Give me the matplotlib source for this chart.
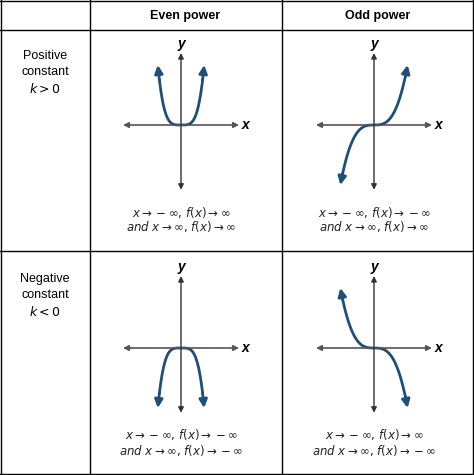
import numpy as np
import matplotlib
matplotlib.use("Agg")
import matplotlib.pyplot as plt

col_headers = ["Even power", "Odd power"]
row_headers = ["Positive\nconstant\n$k>0$", "Negative\nconstant\n$k<0$"]
signs = [1, -1]
powers = [4, 3]
xscale = [1.0, 1.45]
captions = [
    [("$x\\rightarrow-\\infty$, $f(x)\\rightarrow\\infty$", "and $x\\rightarrow\\infty$, $f(x)\\rightarrow\\infty$"),
     ("$x\\rightarrow-\\infty$, $f(x)\\rightarrow-\\infty$", "and $x\\rightarrow\\infty$, $f(x)\\rightarrow\\infty$")],
    [("$x\\rightarrow-\\infty$, $f(x)\\rightarrow-\\infty$", "and $x\\rightarrow\\infty$, $f(x)\\rightarrow-\\infty$"),
     ("$x\\rightarrow-\\infty$, $f(x)\\rightarrow\\infty$", "and $x\\rightarrow\\infty$, $f(x)\\rightarrow-\\infty$")],
]

plt.rcParams['mathtext.fontset'] = 'dejavusans'
W, H = 474, 475
fig = plt.figure(figsize=(W/100, H/100), dpi=100)
ax = fig.add_axes([0, 0, 1, 1])
ax.set_xlim(0, W); ax.set_ylim(H, 0); ax.axis('off')

lc = 'black'
for x in [1, 90, 282, 473]:
    ax.plot([x, x], [0, H], color=lc, lw=1)
for y in [1, 30, 251, 474]:
    ax.plot([0, W], [y, y], color=lc, lw=1)

colx = [185, 378]
rowy = [125, 348]
for j, h in enumerate(col_headers):
    ax.text(colx[j], 16, h, ha='center', va='center', fontsize=9, fontweight='bold', family='Liberation Sans')
for i, h in enumerate(row_headers):
    ax.text(45, rowy[i] - 52, h, ha='center', va='center', fontsize=9, family='Liberation Sans', linespacing=1.4)

blue = '#1f4e79'
for i in range(2):
    for j in range(2):
        cx, cy = colx[j] - 4, rowy[i]
        sub = fig.add_axes([(cx - 58) / W, 1 - (cy + 72) / H, 116 / W, 144 / H])
        sub.set_xlim(-2.5, 2.5); sub.set_ylim(-3, 3); sub.axis('off')
        sub.annotate('', xy=(2.5, 0), xytext=(-2.5, 0), arrowprops=dict(arrowstyle='<|-|>', color='#555555', lw=1.2, mutation_scale=8, shrinkA=0, shrinkB=0))
        sub.annotate('', xy=(0, 3), xytext=(0, -2.7), arrowprops=dict(arrowstyle='<|-|>', color='#333333', lw=1.0, mutation_scale=8, shrinkA=0, shrinkB=0))
        sub.text(2.6, 0, 'x', fontsize=10, fontweight='bold', style='italic', va='center', family='Liberation Sans')
        sub.text(0, 3.1, 'y', fontsize=10, fontweight='bold', style='italic', ha='center', va='bottom', family='Liberation Sans')
        xs = np.linspace(-0.93, 0.93, 200) * xscale[j]
        ys = signs[i] * 2.5 * (xs / xscale[j]) ** powers[j]
        sub.plot(xs, ys, color=blue, lw=2)
        for k, sgn in [(0, -1), (-1, 1)]:
            x0 = sgn * xscale[j]
            y0 = signs[i] * 2.5 * sgn ** powers[j]
            sub.annotate('', xy=(x0, y0), xytext=(xs[k], ys[k]),
                         arrowprops=dict(arrowstyle='-|>', color=blue, lw=2, mutation_scale=12, shrinkA=0, shrinkB=0))
        c1, c2 = captions[i][j]
        ax.text(cx, cy + 87, c1, ha='center', va='center', fontsize=8.5, color='#222222')
        ax.text(cx, cy + 102, c2.replace('and', '$\\it{and}$'), ha='center', va='center', fontsize=8.5, color='#222222')

fig.savefig('out.png', dpi=100)
